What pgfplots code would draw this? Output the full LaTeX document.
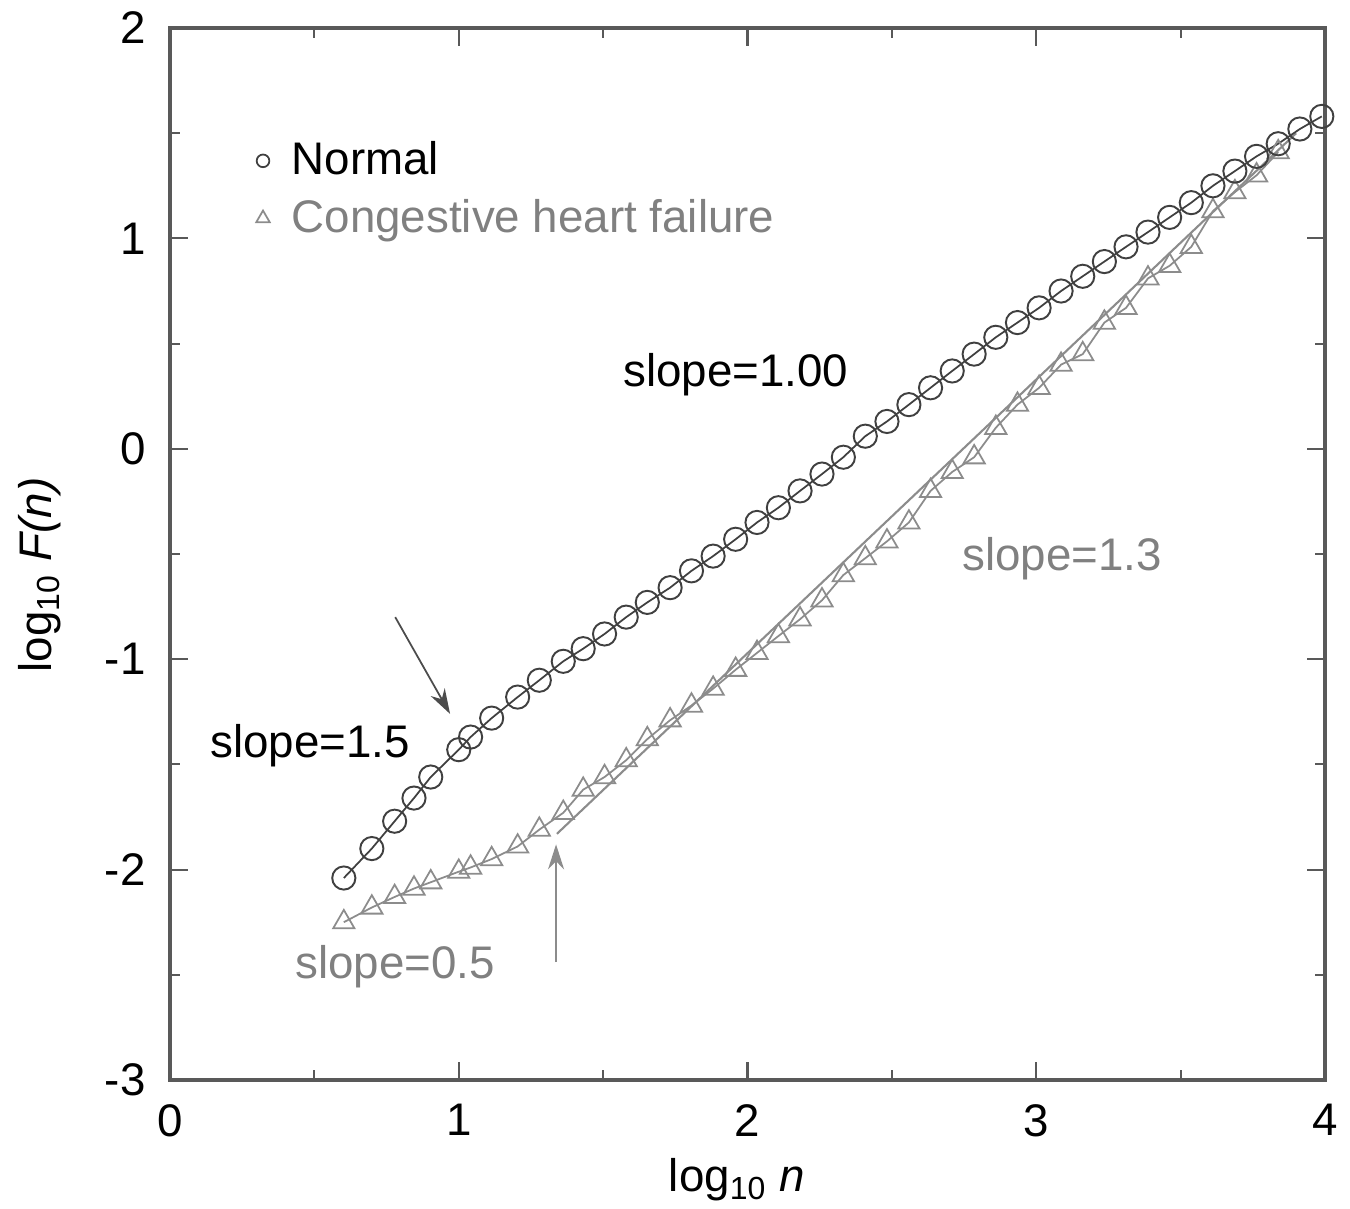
\documentclass[border=0pt]{standalone}
\usepackage{pgfplots}
\pgfplotsset{compat=1.18}
\usepackage{fontspec}
\setmainfont{Liberation Sans}
\usetikzlibrary{arrows.meta}
\definecolor{normc}{gray}{0.25}
\definecolor{chfc}{gray}{0.55}
\definecolor{chft}{gray}{0.5}
\definecolor{axc}{gray}{0.35}
\pgfplotstableread{
x y
0.602 -2.04
0.699 -1.90
0.778 -1.77
0.845 -1.66
0.903 -1.56
1.000 -1.43
1.041 -1.37
1.114 -1.28
1.204 -1.18
1.279 -1.10
1.362 -1.01
1.431 -0.95
1.505 -0.88
1.580 -0.80
1.653 -0.73
1.732 -0.66
1.806 -0.58
1.881 -0.51
1.959 -0.43
2.033 -0.35
2.107 -0.28
2.182 -0.20
2.258 -0.12
2.332 -0.04
2.408 0.06
2.483 0.13
2.559 0.21
2.634 0.29
2.709 0.37
2.785 0.45
2.860 0.53
2.935 0.60
3.010 0.67
3.086 0.75
3.161 0.82
3.236 0.89
3.311 0.96
3.387 1.03
3.462 1.10
3.537 1.17
3.612 1.25
3.688 1.32
3.763 1.39
3.838 1.45
3.913 1.52
3.989 1.58
}\normaltab
\pgfplotstableread{
x y
0.602 -2.25
0.699 -2.18
0.778 -2.13
0.845 -2.09
0.903 -2.06
1.000 -2.01
1.041 -1.99
1.114 -1.95
1.204 -1.89
1.279 -1.81
1.362 -1.73
1.431 -1.62
1.505 -1.56
1.580 -1.48
1.653 -1.38
1.732 -1.29
1.806 -1.22
1.881 -1.14
1.959 -1.05
2.033 -0.97
2.107 -0.89
2.182 -0.81
2.258 -0.72
2.332 -0.60
2.408 -0.52
2.483 -0.44
2.559 -0.35
2.634 -0.20
2.709 -0.11
2.785 -0.04
2.860 0.10
2.935 0.21
3.010 0.29
3.086 0.40
3.161 0.45
3.236 0.60
3.311 0.67
3.387 0.81
3.462 0.87
3.537 0.96
3.612 1.13
3.688 1.22
3.763 1.30
3.838 1.41
}\chftab
\begin{document}
\begin{tikzpicture}
\begin{axis}[
  scale only axis,
  width=11.55cm, height=10.52cm,
  xmin=0, xmax=4, ymin=-3, ymax=2,
  xtick={0,1,2,3,4}, xticklabels={0,1,2,3,4},
  ytick={-3,-2,-1,0,1,2}, yticklabels={-3,-2,-1,0,1,2},
  minor x tick num=1, minor y tick num=1,
  major tick length=0.18cm, minor tick length=0.1cm,
  tick style={color=axc, line width=0.6pt},
  axis line style={color=axc, line width=0.9pt},
  tick label style={font=\fontsize{13}{15}\selectfont},
  xticklabel style={yshift=-0.12cm},
  yticklabel style={xshift=-0.12cm},
  xlabel={log\textsubscript{10} \textit{n}},
  ylabel={log\textsubscript{10} \textit{F(n)}},
  label style={font=\fontsize{13}{15}\selectfont},
  xlabel style={at={(axis description cs:0.491,-0.095)}, anchor=center},
  ylabel style={at={(axis description cs:-0.113,0.48)}, anchor=center},
  legend style={at={(axis cs:0.26,1.53)}, anchor=north west, draw=none, fill=none,
    font=\fontsize{13}{15}\selectfont, row sep=0.05cm},
  legend cell align=left,
]
\addlegendimage{only marks, mark=o, mark size=1.8pt, color=normc, mark options={line width=0.5pt}}
\addlegendentry{\hspace{0.15cm}\textcolor{black}{Normal}}
\addlegendimage{only marks, mark=triangle, mark size=2.2pt, color=chfc, mark options={line width=0.5pt}}
\addlegendentry{\hspace{0.15cm}\textcolor{chft}{Congestive heart failure}}

\addplot[chfc, line width=0.6pt, forget plot] coordinates {(1.34,-1.83) (3.90,1.50)};
\addplot[chfc, line width=0.5pt, mark=triangle, mark size=3.5pt, mark options={line width=0.5pt}, forget plot] table[x=x,y=y] {\chftab};
\addplot[normc, line width=0.5pt, mark=o, mark size=3.3pt, mark options={line width=0.55pt}, forget plot] table[x=x,y=y] {\normaltab};

\node[font=\fontsize{13}{15}\selectfont, text=black] at (axis cs:1.96,0.35) {slope=1.00};
\node[font=\fontsize{13}{15}\selectfont, text=black] at (axis cs:0.485,-1.41) {slope=1.5};
\node[font=\fontsize{13}{15}\selectfont, text=chft] at (axis cs:3.09,-0.52) {slope=1.3};
\node[font=\fontsize{13}{15}\selectfont, text=chft] at (axis cs:0.78,-2.46) {slope=0.5};
\draw[-{Stealth[length=2.5mm,width=1.6mm]}, black!70, line width=0.5pt] (axis cs:0.78,-0.80) -- (axis cs:0.97,-1.26);
\draw[-{Stealth[length=2.5mm,width=1.6mm]}, chfc, line width=0.6pt] (axis cs:1.337,-2.44) -- (axis cs:1.337,-1.88);
\end{axis}
\pgfresetboundingbox
\path (-1.70,-1.29) rectangle (11.80,10.80);
\end{tikzpicture}
\end{document}
